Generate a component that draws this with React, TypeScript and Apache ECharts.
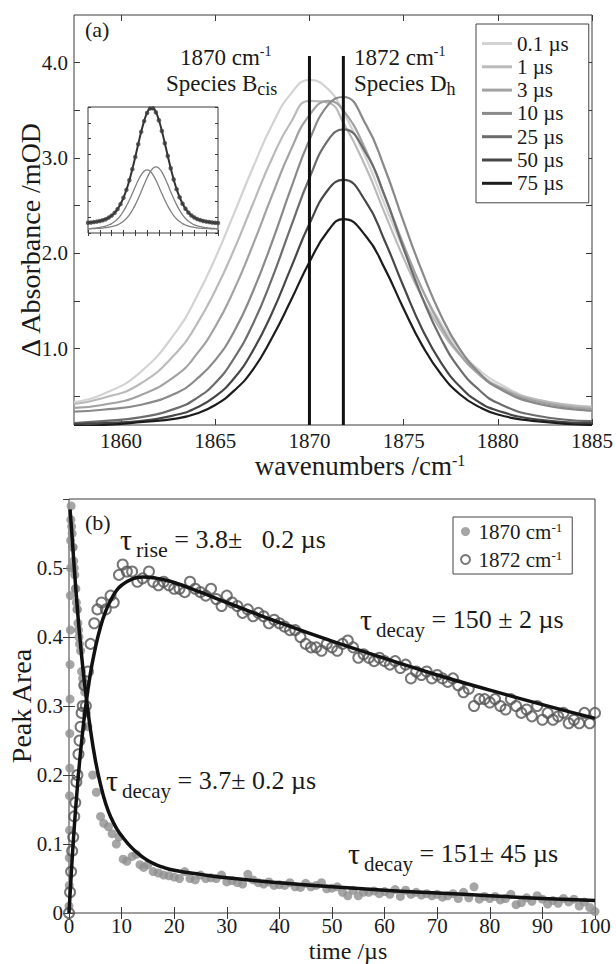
import React, { useEffect, useRef } from "react";
import * as echarts from "echarts";

const FONT = "Liberation Serif, Times New Roman, serif";
const INK = "#1a1a1a";
const FRAME = "#3a3a3a";

// ---------- panel (a): transient IR spectra ----------
const WAVENUMBERS = [1857.5, 1859, 1861, 1863, 1864, 1865, 1866, 1867, 1868, 1869, 1870, 1871, 1871.8, 1873, 1874, 1875, 1876, 1877, 1878, 1879, 1880, 1882, 1885];
const DELAYS = ["0.1 µs", "1 µs", "3 µs", "10 µs", "25 µs", "50 µs", "75 µs"];
const ABS_0_1US = [0.44, 0.52, 0.75, 1.2, 1.54, 1.95, 2.42, 2.9, 3.34, 3.67, 3.82, 3.72, 3.48, 3.0, 2.51, 2.04, 1.61, 1.26, 0.98, 0.78, 0.64, 0.47, 0.38];
const ABS_1US = [0.42, 0.48, 0.63, 0.97, 1.25, 1.61, 2.04, 2.52, 2.99, 3.37, 3.6, 3.58, 3.37, 2.9, 2.42, 1.95, 1.53, 1.19, 0.93, 0.74, 0.61, 0.47, 0.39];
const ABS_3US = [0.38, 0.41, 0.51, 0.73, 0.94, 1.23, 1.62, 2.09, 2.6, 3.08, 3.45, 3.6, 3.5, 3.08, 2.6, 2.09, 1.62, 1.23, 0.94, 0.73, 0.6, 0.45, 0.37];
const ABS_10US = [0.34, 0.36, 0.41, 0.54, 0.68, 0.88, 1.18, 1.6, 2.11, 2.67, 3.19, 3.56, 3.64, 3.35, 2.89, 2.33, 1.8, 1.34, 0.99, 0.75, 0.59, 0.43, 0.35];
const ABS_25US = [0.22, 0.24, 0.28, 0.38, 0.48, 0.64, 0.9, 1.26, 1.73, 2.27, 2.79, 3.19, 3.3, 3.05, 2.6, 2.05, 1.53, 1.1, 0.78, 0.57, 0.43, 0.3, 0.24];
const ABS_50US = [0.21, 0.22, 0.24, 0.31, 0.38, 0.5, 0.69, 0.98, 1.37, 1.84, 2.31, 2.67, 2.77, 2.54, 2.13, 1.65, 1.2, 0.85, 0.6, 0.44, 0.35, 0.26, 0.22];
const ABS_75US = [0.19, 0.2, 0.23, 0.27, 0.32, 0.41, 0.56, 0.78, 1.11, 1.5, 1.91, 2.24, 2.36, 2.18, 1.84, 1.42, 1.03, 0.73, 0.52, 0.39, 0.31, 0.24, 0.2];
const SPECTRA = [ABS_0_1US, ABS_1US, ABS_3US, ABS_10US, ABS_25US, ABS_50US, ABS_75US];
const SPECTRA_COLORS = ["#d3d3d3", "#bababa", "#a2a2a2", "#898989", "#6c6c6c", "#474747", "#1c1c1c"];
const WN_TICKS = [1860, 1865, 1870, 1875, 1880, 1885];
const ABS_LABELS = [1, 2, 3, 4];
const ABS_TICKS = [0.5, 1, 1.5, 2, 2.5, 3, 3.5, 4];
const MARKER_WN = [1870, 1871.8];
const MARKER_SPAN = [0.2, 4.07];

// ---------- inset: two-component fit ----------
const INSET_WN = [1860, 1860.5, 1861, 1861.5, 1862, 1862.5, 1863, 1863.5, 1864, 1864.5, 1865, 1865.5, 1866, 1866.5, 1867, 1867.5, 1868, 1868.5, 1869, 1869.5, 1870, 1870.5, 1871, 1871.5, 1872, 1872.5, 1873, 1873.5, 1874, 1874.5, 1875, 1875.5, 1876, 1876.5, 1877, 1877.5, 1878, 1878.5, 1879, 1879.5, 1880, 1880.5, 1881, 1881.5, 1882];
const INSET_DATA = [0.304, 0.314, 0.325, 0.339, 0.356, 0.381, 0.411, 0.458, 0.518, 0.599, 0.711, 0.859, 1.051, 1.285, 1.571, 1.901, 2.264, 2.644, 3.01, 3.331, 3.573, 3.703, 3.709, 3.589, 3.354, 3.037, 2.673, 2.293, 1.928, 1.594, 1.305, 1.066, 0.871, 0.72, 0.606, 0.523, 0.46, 0.414, 0.383, 0.359, 0.339, 0.326, 0.314, 0.305, 0.297];
const INSET_B = [0.132, 0.138, 0.145, 0.154, 0.166, 0.183, 0.204, 0.237, 0.28, 0.339, 0.417, 0.519, 0.649, 0.802, 0.98, 1.174, 1.376, 1.569, 1.731, 1.84, 1.88, 1.84, 1.731, 1.569, 1.376, 1.174, 0.98, 0.802, 0.649, 0.519, 0.417, 0.339, 0.28, 0.237, 0.204, 0.183, 0.166, 0.154, 0.145, 0.138, 0.132, 0.128, 0.124, 0.12, 0.117];
const INSET_D = [0.122, 0.126, 0.13, 0.135, 0.14, 0.148, 0.157, 0.171, 0.188, 0.21, 0.244, 0.29, 0.352, 0.433, 0.541, 0.677, 0.838, 1.025, 1.229, 1.441, 1.643, 1.813, 1.928, 1.97, 1.928, 1.813, 1.643, 1.441, 1.229, 1.025, 0.838, 0.677, 0.541, 0.433, 0.352, 0.29, 0.244, 0.21, 0.188, 0.171, 0.157, 0.148, 0.14, 0.135, 0.13];

// ---------- panel (b): kinetics ----------
const T_1870 = [0, 0.05, 0.05, 0.1, 0.1, 0.15, 0.15, 0.2, 0.2, 0.25, 0.25, 0.3, 0.3, 0.35, 0.4, 0.5, 0.6, 0.7, 0.8, 0.9, 1, 1.1, 1.2, 1.3, 1.4, 1.5, 1.6, 1.7, 1.8, 1.9, 2, 2.2, 2.4, 2.6, 2.8, 3, 3.3, 3.6, 4.5, 5.2, 6, 6.6, 7.5, 8.2, 9, 9.5, 10.3, 11, 12, 12.8, 13.5, 14.2, 15, 16, 17, 18, 19, 20, 21, 22, 23, 24, 25, 26, 27, 28, 29, 30, 31, 32, 33, 34, 35, 36, 37, 38, 39, 40, 41, 42, 43, 44, 45, 46, 47, 48, 49, 50, 51, 52, 53, 54, 55, 56, 57, 58, 59, 60, 61, 62, 63, 64, 65, 66, 67, 68, 69, 70, 71, 72, 73, 74, 75, 76, 77, 78, 79, 80, 81, 82, 83, 84, 85, 86, 87, 88, 89, 90, 91, 92, 93, 94, 95, 96, 97, 98, 99, 100];
const AREA_1870 = [0.01, 0.04, 0.08, 0.12, 0.17, 0.21, 0.26, 0.31, 0.36, 0.41, 0.46, 0.5, 0.54, 0.57, 0.59, 0.56, 0.55, 0.53, 0.53, 0.51, 0.5, 0.49, 0.47, 0.47, 0.45, 0.44, 0.44, 0.42, 0.41, 0.4, 0.39, 0.38, 0.35, 0.34, 0.33, 0.32, 0.29, 0.27, 0.2, 0.175, 0.14, 0.13, 0.125, 0.115, 0.1, 0.11, 0.078, 0.075, 0.082, 0.085, 0.07, 0.066, 0.07, 0.06, 0.058, 0.055, 0.054, 0.052, 0.05, 0.06, 0.05, 0.048, 0.055, 0.05, 0.051, 0.05, 0.055, 0.045, 0.047, 0.044, 0.042, 0.056, 0.048, 0.044, 0.042, 0.045, 0.04, 0.041, 0.04, 0.044, 0.038, 0.037, 0.043, 0.038, 0.04, 0.044, 0.035, 0.036, 0.038, 0.03, 0.025, 0.033, 0.025, 0.03, 0.03, 0.032, 0.028, 0.031, 0.027, 0.034, 0.024, 0.033, 0.027, 0.03, 0.026, 0.028, 0.025, 0.027, 0.023, 0.025, 0.028, 0.021, 0.03, 0.022, 0.038, 0.02, 0.024, 0.021, 0.024, 0.019, 0.021, 0.027, 0.012, 0.015, 0.022, 0.017, 0.025, 0.02, 0.013, 0.018, 0.014, 0.021, 0.016, 0.02, 0.01, 0.016, 0.008, 0.002];
const T_1872 = [0, 0.2, 0.4, 0.6, 0.8, 1, 1.2, 1.4, 1.6, 1.8, 2, 2.2, 2.4, 2.6, 2.9, 3.2, 3.6, 4.1, 4.8, 5.4, 6.2, 7, 7.9, 8.5, 9.5, 10.2, 11, 12, 13, 14, 15.2, 16, 17, 18, 19, 20, 21, 22, 23, 24, 25, 26, 27, 28, 29, 30, 31, 32, 33, 34, 35, 36, 37, 38, 39, 40, 41, 42, 43, 44, 45, 46, 47, 48, 49, 50, 51, 52, 53, 54, 55, 56, 57, 58, 59, 60, 61, 62, 63, 64, 65, 66, 67, 68, 69, 70, 71, 72, 73, 74, 75, 76, 77, 78, 79, 80, 81, 82, 83, 84, 85, 86, 87, 88, 89, 90, 91, 92, 93, 94, 95, 96, 97, 98, 99, 100];
const AREA_1872 = [0, 0.03, 0.06, 0.09, 0.11, 0.14, 0.16, 0.19, 0.2, 0.23, 0.25, 0.27, 0.29, 0.3, 0.33, 0.3, 0.35, 0.39, 0.42, 0.44, 0.45, 0.44, 0.46, 0.45, 0.49, 0.505, 0.495, 0.495, 0.48, 0.485, 0.495, 0.48, 0.475, 0.48, 0.475, 0.47, 0.47, 0.465, 0.48, 0.47, 0.465, 0.46, 0.47, 0.455, 0.445, 0.46, 0.45, 0.445, 0.435, 0.44, 0.43, 0.435, 0.43, 0.42, 0.425, 0.42, 0.415, 0.41, 0.41, 0.4, 0.39, 0.385, 0.385, 0.38, 0.39, 0.385, 0.38, 0.39, 0.395, 0.385, 0.37, 0.375, 0.37, 0.365, 0.37, 0.365, 0.36, 0.365, 0.355, 0.36, 0.34, 0.35, 0.345, 0.35, 0.34, 0.345, 0.34, 0.335, 0.34, 0.33, 0.32, 0.325, 0.3, 0.31, 0.31, 0.305, 0.31, 0.3, 0.295, 0.31, 0.3, 0.29, 0.295, 0.285, 0.3, 0.28, 0.29, 0.28, 0.285, 0.29, 0.275, 0.28, 0.275, 0.29, 0.275, 0.29];
const T_FIT_1870 = [0.2, 0.5, 1, 1.5, 2, 2.5, 3, 4, 5, 6, 7, 8, 9, 10, 12, 14, 16, 18, 20, 25, 30, 40, 50, 60, 70, 80, 90, 100];
const FIT_1870 = [0.585, 0.555, 0.5, 0.45, 0.405, 0.365, 0.33, 0.27, 0.222, 0.186, 0.158, 0.138, 0.123, 0.112, 0.094, 0.081, 0.072, 0.066, 0.062, 0.056, 0.051, 0.044, 0.038, 0.033, 0.029, 0.025, 0.021, 0.018];
const T_FIT_1872 = [0, 0.5, 1, 1.5, 2, 2.5, 3, 4, 5, 6, 7, 8, 9, 10, 12, 14, 16, 18, 20, 25, 30, 40, 50, 60, 70, 80, 90, 100];
const FIT_1872 = [0, 0.066, 0.124, 0.174, 0.218, 0.256, 0.289, 0.344, 0.384, 0.415, 0.438, 0.454, 0.467, 0.475, 0.484, 0.487, 0.486, 0.483, 0.479, 0.465, 0.45, 0.421, 0.394, 0.369, 0.345, 0.323, 0.302, 0.282];
const KIN_NAMES = ["1870 cm-1", "1872 cm-1"];

const pairs = (xs: number[], ys: number[]) => xs.map((x, i) => [x, ys[i]]);

const tickStyle = { color: FRAME, width: 1 };

function frameAxis(gridIndex: number, position: string, min: number, max: number, tickLen: number, extra: any = {}) {
  return {
    type: "value",
    gridIndex,
    position,
    min,
    max,
    axisLine: { show: false },
    splitLine: { show: false },
    axisTick: { show: true, inside: true, length: tickLen, lineStyle: tickStyle, ...(extra.axisTick || {}) },
    axisLabel: { show: false, ...(extra.axisLabel || {}) },
    ...(extra.interval !== undefined ? { interval: extra.interval } : {}),
  };
}

const labelStyle = { color: INK, fontFamily: FONT, fontSize: 21, lineHeight: 21 };

function tok(size: number, lineHeight: number, va = "middle", padLeft = 0) {
  return {
    fontFamily: FONT,
    fontSize: size,
    lineHeight,
    verticalAlign: va,
    fill: INK,
    color: INK,
    ...(padLeft ? { padding: [0, 0, 0, padLeft] } : {}),
  };
}

function txt(x: number, y: number, text: string, rich: any, align = "left", rotation = 0) {
  return {
    type: "text",
    x,
    y,
    rotation,
    z: 100,
    style: {
      text,
      fontFamily: FONT,
      fontSize: 24,
      fill: INK,
      align,
      verticalAlign: "middle",
      textAlign: align,
      textVerticalAlign: "middle",
      rich,
    },
  };
}

const SUP_RICH = { a: tok(23, 25), s: tok(14, 14, "top") };
const SUB_RICH = { a: tok(23, 30), b: tok(18, 18, "bottom") };
const TAU_RICH = { t: tok(30, 43), b: tok(21, 21, "bottom", 4), a: tok(26, 43) };
const TAU_RISE_RICH = { t: tok(30, 43), b: tok(22, 22, "bottom", 4), a: tok(26, 43) };

function buildOption() {
  const xAxis = [
    frameAxis(0, "bottom", 1857.5, 1885, 6, {
      axisTick: { customValues: WN_TICKS },
      axisLabel: { show: true, customValues: WN_TICKS, margin: 5, formatter: (v: number) => String(v), ...labelStyle },
    }),
    frameAxis(0, "top", 1857.5, 1885, 6, { axisTick: { customValues: WN_TICKS } }),
    frameAxis(1, "bottom", 1860, 1882, 3, { interval: 2 }),
    frameAxis(1, "top", 1860, 1882, 3, { interval: 2 }),
    frameAxis(2, "bottom", 0, 100, 6, {
      interval: 10,
      axisLabel: { show: true, margin: 2, formatter: (v: number) => String(v), ...labelStyle },
    }),
    frameAxis(2, "top", 0, 100, 6, { interval: 10 }),
  ];
  const yAxis = [
    frameAxis(0, "left", 0.2, 4.5, 6, {
      axisTick: { customValues: ABS_TICKS },
      axisLabel: { show: true, customValues: ABS_LABELS, margin: 6, formatter: (v: number) => v.toFixed(1), ...labelStyle },
    }),
    frameAxis(0, "right", 0.2, 4.5, 6, { axisTick: { customValues: ABS_TICKS } }),
    frameAxis(1, "left", 0, 3.75, 3, { interval: 0.46875 }),
    frameAxis(1, "right", 0, 3.75, 3, { interval: 0.46875 }),
    frameAxis(2, "left", 0, 0.6, 6, {
      interval: 0.1,
      axisLabel: {
        show: true,
        margin: 6,
        showMaxLabel: false,
        formatter: (v: number) => (Math.abs(v) < 1e-9 ? "0" : v.toFixed(1)),
        ...labelStyle,
      },
    }),
    frameAxis(2, "right", 0, 0.6, 6, { interval: 0.1 }),
  ];

  const series: any[] = [];
  SPECTRA.forEach((vals, i) => {
    series.push({
      type: "line",
      name: DELAYS[i],
      xAxisIndex: 0,
      yAxisIndex: 0,
      data: pairs(WAVENUMBERS, vals),
      smooth: true,
      symbol: "none",
      lineStyle: { color: SPECTRA_COLORS[i], width: 2.2 },
      itemStyle: { color: SPECTRA_COLORS[i] },
      z: 2 + i,
    });
  });
  MARKER_WN.forEach((w) => {
    series.push({
      type: "line",
      xAxisIndex: 0,
      yAxisIndex: 0,
      data: [[w, MARKER_SPAN[0]], [w, MARKER_SPAN[1]]],
      symbol: "none",
      lineStyle: { color: "#111", width: 3 },
      z: 20,
      silent: true,
    });
  });
  [INSET_B, INSET_D].forEach((vals) => {
    series.push({
      type: "line",
      xAxisIndex: 2,
      yAxisIndex: 2,
      data: pairs(INSET_WN, vals),
      smooth: true,
      symbol: "none",
      lineStyle: { color: "#808080", width: 1.3 },
      z: 30,
      silent: true,
    });
  });
  series.push({
    type: "line",
    xAxisIndex: 2,
    yAxisIndex: 2,
    data: pairs(INSET_WN, INSET_DATA),
    smooth: true,
    symbol: "none",
    lineStyle: { color: "#333", width: 2 },
    z: 31,
    silent: true,
  });
  series.push({
    type: "scatter",
    xAxisIndex: 2,
    yAxisIndex: 2,
    data: pairs(INSET_WN, INSET_DATA),
    symbolSize: 4.5,
    itemStyle: { color: "#3c3c3c" },
    z: 32,
    silent: true,
  });
  series.push({
    type: "scatter",
    name: KIN_NAMES[0],
    xAxisIndex: 4,
    yAxisIndex: 4,
    data: pairs(T_1870, AREA_1870),
    symbol: "circle",
    symbolSize: 9,
    itemStyle: { color: "#8e8e8e" },
    z: 40,
  });
  series.push({
    type: "scatter",
    name: KIN_NAMES[1],
    xAxisIndex: 4,
    yAxisIndex: 4,
    data: pairs(T_1872, AREA_1872),
    symbol: "circle",
    symbolSize: 10,
    itemStyle: { color: "rgba(255,255,255,0)", borderColor: "#555", borderWidth: 2 },
    z: 41,
  });
  series.push({
    type: "line",
    xAxisIndex: 4,
    yAxisIndex: 4,
    data: pairs(T_FIT_1870, FIT_1870),
    smooth: true,
    symbol: "none",
    lineStyle: { color: "#111", width: 3.5 },
    z: 45,
    silent: true,
  });
  series.push({
    type: "line",
    xAxisIndex: 4,
    yAxisIndex: 4,
    data: pairs(T_FIT_1872, FIT_1872),
    smooth: true,
    symbol: "none",
    lineStyle: { color: "#111", width: 3.5 },
    z: 45,
    silent: true,
  });

  const legendText = { fontFamily: FONT, fontSize: 21, color: INK, lineHeight: 21 };

  const graphic = [
    txt(85, 29, "{a|(a)}", { a: tok(22, 24) }),
    txt(180, 57, "{a|1870 cm}{s|-1}", SUP_RICH),
    txt(166, 83, "{a|Species B}{b|cis}", SUB_RICH),
    txt(354, 57, "{a|1872 cm}{s|-1}", SUP_RICH),
    txt(354, 83, "{a|Species D}{b|h}", SUB_RICH),
    txt(360, 466, "{a|wavenumbers /cm}{s|-1}", { a: tok(27, 27), s: tok(16, 16, "top") }, "center"),
    txt(30, 240, "{a|Δ Absorbance /mOD}", { a: tok(28, 30) }, "center", Math.PI / 2),
    txt(85, 522, "{a|(b)}", { a: tok(22, 24) }),
    txt(120, 539, "{t|τ}{b|rise}{a| = 3.8±   0.2 µs}", TAU_RISE_RICH),
    txt(360, 619, "{t|τ}{b|decay}{a| = 150 ± 2 µs}", TAU_RICH),
    txt(106, 780, "{t|τ}{b|decay}{a| = 3.7± 0.2 µs}", TAU_RICH),
    txt(348, 853, "{t|τ}{b|decay}{a| = 151± 45 µs}", TAU_RICH),
    txt(348, 951, "{a|time /µs}", { a: tok(24, 24) }, "center"),
    txt(21, 706, "{a|Peak Area}", { a: tok(28, 30) }, "center", Math.PI / 2),
  ];

  return {
    animation: false,
    backgroundColor: "#fff",
    textStyle: { fontFamily: FONT },
    grid: [
      { left: 74, right: 23, top: 15, bottom: 539, show: true, borderColor: FRAME, borderWidth: 1, backgroundColor: "transparent" },
      { left: 88, width: 130, top: 107, height: 126, show: true, borderColor: FRAME, borderWidth: 1, backgroundColor: "#fff" },
      { left: 69, right: 21, top: 499, bottom: 51, show: true, borderColor: FRAME, borderWidth: 1, backgroundColor: "transparent" },
    ],
    xAxis,
    yAxis,
    legend: [
      {
        orient: "vertical",
        left: 476,
        top: 24,
        padding: [9, 20, 9, 6],
        itemWidth: 30,
        itemHeight: 3,
        itemGap: 2.3,
        icon: "rect",
        borderColor: "#444",
        borderWidth: 1,
        backgroundColor: "#fff",
        selectedMode: false,
        textStyle: legendText,
        data: DELAYS,
        z: 50,
      },
      {
        orient: "vertical",
        left: 453,
        top: 517,
        padding: [4, 10, 4, 7],
        itemWidth: 16,
        itemHeight: 9,
        itemGap: 7,
        borderColor: "#444",
        borderWidth: 1,
        backgroundColor: "#fff",
        selectedMode: false,
        formatter: (name: string) => "{a|" + name.replace("-1", "") + "}{s|-1}",
        textStyle: {
          ...legendText,
          rich: {
            a: { fontFamily: FONT, fontSize: 21, lineHeight: 21, color: INK },
            s: { fontFamily: FONT, fontSize: 13, lineHeight: 13, verticalAlign: "top", color: INK },
          },
        },
        data: [
          { name: KIN_NAMES[0], icon: "circle", itemStyle: { color: "#8e8e8e" } },
          { name: KIN_NAMES[1], icon: "circle", itemStyle: { color: "#fff", borderColor: "#555", borderWidth: 2 } },
        ],
        z: 50,
      },
    ],
    series,
    graphic,
  };
}

export default function App() {
  const ref = useRef<HTMLDivElement>(null);
  useEffect(() => {
    document.body.style.margin = "0";
    const chart = echarts.init(ref.current!, null, { renderer: "svg" });
    chart.setOption(buildOption() as any);
    return () => chart.dispose();
  }, []);
  return <div ref={ref} style={{ width: 616, height: 964, background: "#fff" }} />;
}
